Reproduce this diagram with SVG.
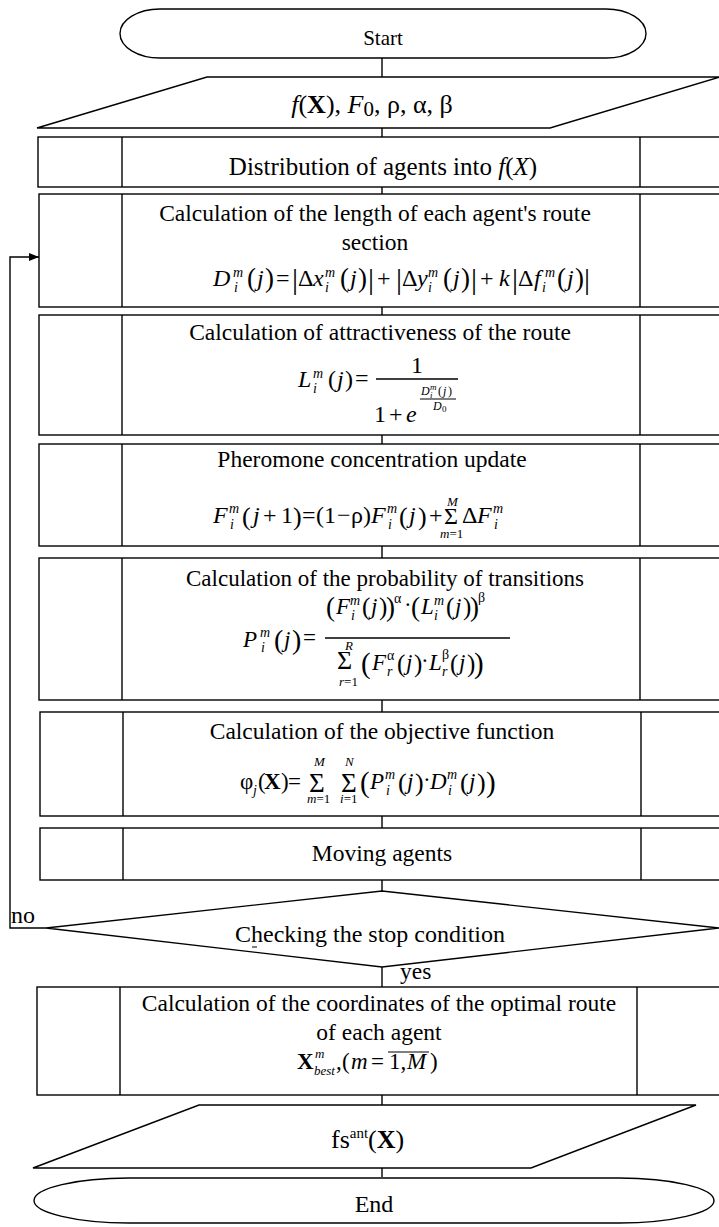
<svg xmlns="http://www.w3.org/2000/svg" width="719" height="1227" viewBox="0 0 719 1227">
<defs>
<style>
.ln{stroke:#000;stroke-width:1.4;fill:none}
.bx{fill:#fff;stroke:#000;stroke-width:1.4}
.t{font-family:"Liberation Serif","Times New Roman",serif;fill:#000;font-size:23.5px}
.c{text-anchor:middle}
.i{font-style:italic}
.b{font-weight:bold}
.s{font-size:14px}
.k{font-size:13px}
</style>
<marker id="ah" markerUnits="userSpaceOnUse" markerWidth="10" markerHeight="8" refX="10" refY="4" orient="auto"><path d="M0,0 L10,4 L0,8 Z" fill="#000"/></marker>
</defs>
<rect width="719" height="1227" fill="#fff"/>

<g id="connectors">
<line class="ln" x1="382" y1="58" x2="382" y2="77"/>
<line class="ln" x1="382" y1="128" x2="382" y2="137"/>
<line class="ln" x1="382" y1="187" x2="382" y2="194"/>
<line class="ln" x1="382" y1="307" x2="382" y2="315"/>
<line class="ln" x1="382" y1="435" x2="382" y2="444"/>
<line class="ln" x1="382" y1="546" x2="382" y2="558"/>
<line class="ln" x1="382" y1="700" x2="382" y2="712"/>
<line class="ln" x1="382" y1="816" x2="382" y2="828"/>
<line class="ln" x1="382" y1="880" x2="382" y2="891"/>
<line class="ln" x1="382" y1="967" x2="382" y2="987"/>
<line class="ln" x1="382" y1="1095" x2="382" y2="1105"/>
<line class="ln" x1="382" y1="1168" x2="382" y2="1177"/>
<polyline class="ln" points="46,928 10,928 10,257 39,257" marker-end="url(#ah)"/>
<text class="t" x="11" y="923" style="font-size:24px">no</text>
<text class="t" x="400" y="979">yes</text>
</g>

<g id="start">
<rect class="bx" x="120" y="9" width="526" height="49" rx="40" ry="24.5"/>
<text class="t c" x="383" y="45" style="font-size:21px">Start</text>
</g>

<g id="input">
<polygon class="bx" points="207,77 720,77 550,128 37,128"/>
<text class="t c" x="372" y="113" style="font-size:26px"><tspan class="i">f</tspan>(<tspan class="b">X</tspan>), <tspan class="i">F</tspan><tspan style="font-size:21px" dy="3">0</tspan><tspan dy="-3">, ρ, α, β</tspan></text>
</g>

<g id="distribute">
<rect class="bx" x="38" y="137" width="684" height="50"/>
<line class="ln" x1="122" y1="137" x2="122" y2="187"/>
<line class="ln" x1="640" y1="137" x2="640" y2="187"/>
<text class="t c" x="383" y="175" style="font-size:25px">Distribution of agents into <tspan class="i">f</tspan>(<tspan class="i">X</tspan>)</text>
</g>

<g id="route-length">
<rect class="bx" x="39" y="194" width="683" height="113"/>
<line class="ln" x1="122" y1="194" x2="122" y2="307"/>
<line class="ln" x1="640" y1="194" x2="640" y2="307"/>
<text class="t c" x="375" y="221">Calculation of the length of each agent's route</text>
<text class="t c" x="375" y="250">section</text>
<text class="t" style="font-size:24px"><tspan class="i" x="213" y="286">D</tspan><tspan class="i s" x="233" y="277">m</tspan><tspan class="i s" x="234" y="292">i</tspan><tspan x="247" y="287" style="font-size:27px">(</tspan><tspan class="i" x="257" y="286">j</tspan><tspan x="265" y="287" style="font-size:27px">)</tspan><tspan x="276" y="286">=</tspan><tspan x="292" y="289" style="font-size:30px">|</tspan><tspan x="298" y="286">Δ</tspan><tspan class="i" x="313" y="286">x</tspan><tspan class="i s" x="325" y="277">m</tspan><tspan class="i s" x="325" y="292">i</tspan><tspan x="340" y="287" style="font-size:27px">(</tspan><tspan class="i" x="350" y="286">j</tspan><tspan x="358" y="287" style="font-size:27px">)</tspan><tspan x="368" y="289" style="font-size:30px">|</tspan><tspan x="377" y="286">+</tspan><tspan x="396" y="289" style="font-size:30px">|</tspan><tspan x="402" y="286">Δ</tspan><tspan class="i" x="417" y="286">y</tspan><tspan class="i s" x="428" y="277">m</tspan><tspan class="i s" x="428" y="292">i</tspan><tspan x="443" y="287" style="font-size:27px">(</tspan><tspan class="i" x="453" y="286">j</tspan><tspan x="461" y="287" style="font-size:27px">)</tspan><tspan x="471" y="289" style="font-size:30px">|</tspan><tspan x="480" y="286">+</tspan><tspan class="i" x="499" y="286">k</tspan><tspan x="512" y="289" style="font-size:30px">|</tspan><tspan x="518" y="286">Δ</tspan><tspan class="i" x="534" y="286">f</tspan><tspan class="i s" x="545" y="277">m</tspan><tspan class="i s" x="542" y="292">i</tspan><tspan x="557" y="287" style="font-size:27px">(</tspan><tspan class="i" x="567" y="286">j</tspan><tspan x="575" y="287" style="font-size:27px">)</tspan><tspan x="584" y="289" style="font-size:30px">|</tspan></text>
</g>

<g id="attractiveness">
<rect class="bx" x="39" y="315" width="683" height="120"/>
<line class="ln" x1="122" y1="315" x2="122" y2="435"/>
<line class="ln" x1="640" y1="315" x2="640" y2="435"/>
<text class="t c" x="380" y="340">Calculation of attractiveness of the route</text>
<text class="t" style="font-size:24px"><tspan class="i" x="298" y="387">L</tspan><tspan class="i s" x="313" y="378">m</tspan><tspan class="i s" x="313" y="393">i</tspan><tspan x="328" y="387">(</tspan><tspan class="i" x="337" y="387">j</tspan><tspan x="345" y="387">)</tspan><tspan x="355" y="386">=</tspan><tspan x="411" y="373">1</tspan><tspan x="374" y="422">1</tspan><tspan x="389" y="422">+</tspan><tspan class="i" x="406" y="422">e</tspan><tspan class="i" x="421" y="395" style="font-size:12px">D</tspan><tspan class="i" x="430" y="390" style="font-size:9px">m</tspan><tspan class="i" x="430" y="398" style="font-size:9px">i</tspan><tspan x="438" y="395" style="font-size:12px">(</tspan><tspan class="i" x="443" y="395" style="font-size:12px">j</tspan><tspan x="448" y="395" style="font-size:12px">)</tspan><tspan class="i" x="433" y="410" style="font-size:12px">D</tspan><tspan x="442" y="412" style="font-size:9px">0</tspan></text>
<line class="ln" x1="376" y1="379" x2="458" y2="379"/>
<line x1="420" y1="399" x2="456" y2="399" stroke="#000" stroke-width="1"/>
</g>

<g id="pheromone">
<rect class="bx" x="39" y="444" width="683" height="102"/>
<line class="ln" x1="122" y1="444" x2="122" y2="546"/>
<line class="ln" x1="640" y1="444" x2="640" y2="546"/>
<text class="t c" x="372" y="467">Pheromone concentration update</text>
<text class="t" style="font-size:24px"><tspan class="i" x="213" y="523">F</tspan><tspan class="i s" x="229" y="513">m</tspan><tspan class="i s" x="230" y="529">i</tspan><tspan x="242" y="525" style="font-size:26px">(</tspan><tspan class="i" x="253" y="523">j</tspan><tspan x="263" y="523">+</tspan><tspan x="281" y="523">1</tspan><tspan x="293" y="525" style="font-size:26px">)</tspan><tspan x="302" y="523">=</tspan><tspan x="316" y="523">(1</tspan><tspan x="337" y="523">−</tspan><tspan x="351" y="523">ρ)</tspan><tspan class="i" x="371" y="523">F</tspan><tspan class="i s" x="387" y="513">m</tspan><tspan class="i s" x="388" y="529">i</tspan><tspan x="399" y="525" style="font-size:26px">(</tspan><tspan class="i" x="409" y="523">j</tspan><tspan x="418" y="525" style="font-size:26px">)</tspan><tspan x="429" y="523">+</tspan><tspan x="444" y="524" style="font-size:24px">Σ</tspan><tspan class="i k" x="447" y="506">M</tspan><tspan class="k" x="440" y="538"><tspan class="i">m</tspan>=1</tspan><tspan x="462" y="523">Δ</tspan><tspan class="i" x="477" y="523">F</tspan><tspan class="i s" x="493" y="513">m</tspan><tspan class="i s" x="494" y="529">i</tspan></text>
</g>

<g id="probability">
<rect class="bx" x="39" y="558" width="683" height="142"/>
<line class="ln" x1="122" y1="558" x2="122" y2="700"/>
<line class="ln" x1="640" y1="558" x2="640" y2="700"/>
<text class="t c" x="385" y="586" style="font-size:23px">Calculation of the probability of transitions</text>
<text class="t" style="font-size:23px"><tspan x="326" y="616" style="font-size:27px">(</tspan><tspan class="i" x="336" y="614">F</tspan><tspan class="i s" x="350" y="605">m</tspan><tspan class="i s" x="351" y="620">i</tspan><tspan x="362" y="615" style="font-size:25px">(</tspan><tspan class="i" x="371" y="614">j</tspan><tspan x="379" y="615" style="font-size:25px">)</tspan><tspan x="386" y="616" style="font-size:27px">)</tspan><tspan class="s" x="394" y="603">α</tspan><tspan x="404" y="612">·</tspan><tspan x="411" y="616" style="font-size:27px">(</tspan><tspan class="i" x="421" y="614">L</tspan><tspan class="i s" x="434" y="605">m</tspan><tspan class="i s" x="434" y="620">i</tspan><tspan x="446" y="615" style="font-size:25px">(</tspan><tspan class="i" x="455" y="614">j</tspan><tspan x="463" y="615" style="font-size:25px">)</tspan><tspan x="470" y="616" style="font-size:27px">)</tspan><tspan class="s" x="478" y="602">β</tspan><tspan class="i" x="243" y="647">P</tspan><tspan class="i s" x="260" y="637">m</tspan><tspan class="i s" x="261" y="652">i</tspan><tspan x="274" y="649" style="font-size:28px">(</tspan><tspan class="i" x="284" y="647">j</tspan><tspan x="292" y="649" style="font-size:28px">)</tspan><tspan x="303" y="645">=</tspan><tspan x="337" y="669" style="font-size:26px">Σ</tspan><tspan class="i k" x="345" y="650">R</tspan><tspan class="k" x="339" y="686"><tspan class="i">r</tspan>=1</tspan><tspan x="361" y="673" style="font-size:29px">(</tspan><tspan class="i" x="372" y="670">F</tspan><tspan class="s" x="387" y="660">α</tspan><tspan class="i s" x="387" y="676">r</tspan><tspan x="397" y="672" style="font-size:25px">(</tspan><tspan class="i" x="406" y="670">j</tspan><tspan x="414" y="672" style="font-size:25px">)</tspan><tspan x="421" y="668">·</tspan><tspan class="i" x="429" y="670">L</tspan><tspan class="s" x="442" y="659">β</tspan><tspan class="i s" x="442" y="676">r</tspan><tspan x="450" y="672" style="font-size:25px">(</tspan><tspan class="i" x="459" y="670">j</tspan><tspan x="467" y="672" style="font-size:25px">)</tspan><tspan x="474" y="673" style="font-size:29px">)</tspan></text>
<line class="ln" x1="325" y1="638" x2="510" y2="638"/>
</g>

<g id="objective">
<rect class="bx" x="40" y="712" width="682" height="104"/>
<line class="ln" x1="123" y1="712" x2="123" y2="816"/>
<line class="ln" x1="641" y1="712" x2="641" y2="816"/>
<text class="t c" x="382" y="739">Calculation of the objective function</text>
<text class="t" style="font-size:23px"><tspan x="240" y="789">φ</tspan><tspan class="i s" x="253" y="795">j</tspan><tspan x="258" y="789">(</tspan><tspan class="b" x="264" y="789">X</tspan><tspan x="281" y="789">)</tspan><tspan x="288" y="789">=</tspan><tspan x="309" y="792" style="font-size:27px">Σ</tspan><tspan class="i k" x="314" y="766">M</tspan><tspan class="k" x="307" y="803"><tspan class="i">m</tspan>=1</tspan><tspan x="341" y="792" style="font-size:27px">Σ</tspan><tspan class="i k" x="345" y="766">N</tspan><tspan class="k" x="340" y="803"><tspan class="i">i</tspan>=1</tspan><tspan x="360" y="792" style="font-size:29px">(</tspan><tspan class="i" x="370" y="789">P</tspan><tspan class="i s" x="385" y="779">m</tspan><tspan class="i s" x="386" y="795">i</tspan><tspan x="398" y="791" style="font-size:26px">(</tspan><tspan class="i" x="407" y="789">j</tspan><tspan x="415" y="791" style="font-size:26px">)</tspan><tspan x="423" y="787">·</tspan><tspan class="i" x="430" y="789">D</tspan><tspan class="i s" x="447" y="779">m</tspan><tspan class="i s" x="448" y="795">i</tspan><tspan x="460" y="791" style="font-size:26px">(</tspan><tspan class="i" x="469" y="789">j</tspan><tspan x="477" y="791" style="font-size:26px">)</tspan><tspan x="486" y="792" style="font-size:29px">)</tspan></text>
</g>

<g id="moving">
<rect class="bx" x="40" y="828" width="682" height="52"/>
<line class="ln" x1="123" y1="828" x2="123" y2="880"/>
<line class="ln" x1="641" y1="828" x2="641" y2="880"/>
<text class="t c" x="382" y="861">Moving agents</text>
</g>

<g id="check">
<polygon class="bx" points="382,891 719,928 382,967 46,928"/>
<text class="t c" x="370" y="942" style="font-size:24px">Checking the stop condition</text>
<line x1="252" y1="947" x2="257" y2="947" stroke="#000" stroke-width="1"/>
</g>

<g id="optimal">
<rect class="bx" x="37" y="987" width="685" height="108"/>
<line class="ln" x1="120" y1="987" x2="120" y2="1095"/>
<line class="ln" x1="637" y1="987" x2="637" y2="1095"/>
<text class="t c" x="379" y="1011">Calculation of the coordinates of the optimal route</text>
<text class="t c" x="379" y="1040">of each agent</text>
<text class="t" style="font-size:23px"><tspan class="b" x="297" y="1069">X</tspan><tspan class="i k" x="315" y="1058">m</tspan><tspan class="i k" x="314" y="1075">best</tspan><tspan x="336" y="1069">,</tspan><tspan x="342" y="1069">(</tspan><tspan class="i" x="351" y="1069">m</tspan><tspan x="371" y="1069">=</tspan><tspan x="389" y="1069">1,</tspan><tspan class="i" x="407" y="1069">M</tspan><tspan x="430" y="1069">)</tspan></text>
<line x1="388" y1="1052" x2="429" y2="1052" stroke="#000" stroke-width="1.1"/>
</g>

<g id="output">
<polygon class="bx" points="199,1105 696,1105 531,1168 33,1168"/>
<text class="t" x="331" y="1148" style="font-size:26px">fs<tspan style="font-size:15px" dy="-10">ant</tspan><tspan dy="10">(</tspan><tspan class="b">X</tspan>)</text>
</g>

<g id="end">
<rect class="bx" x="34" y="1178" width="680" height="45" rx="95" ry="22.5"/>
<text class="t c" x="374" y="1212" style="font-size:24px">End</text>
</g>
</svg>
